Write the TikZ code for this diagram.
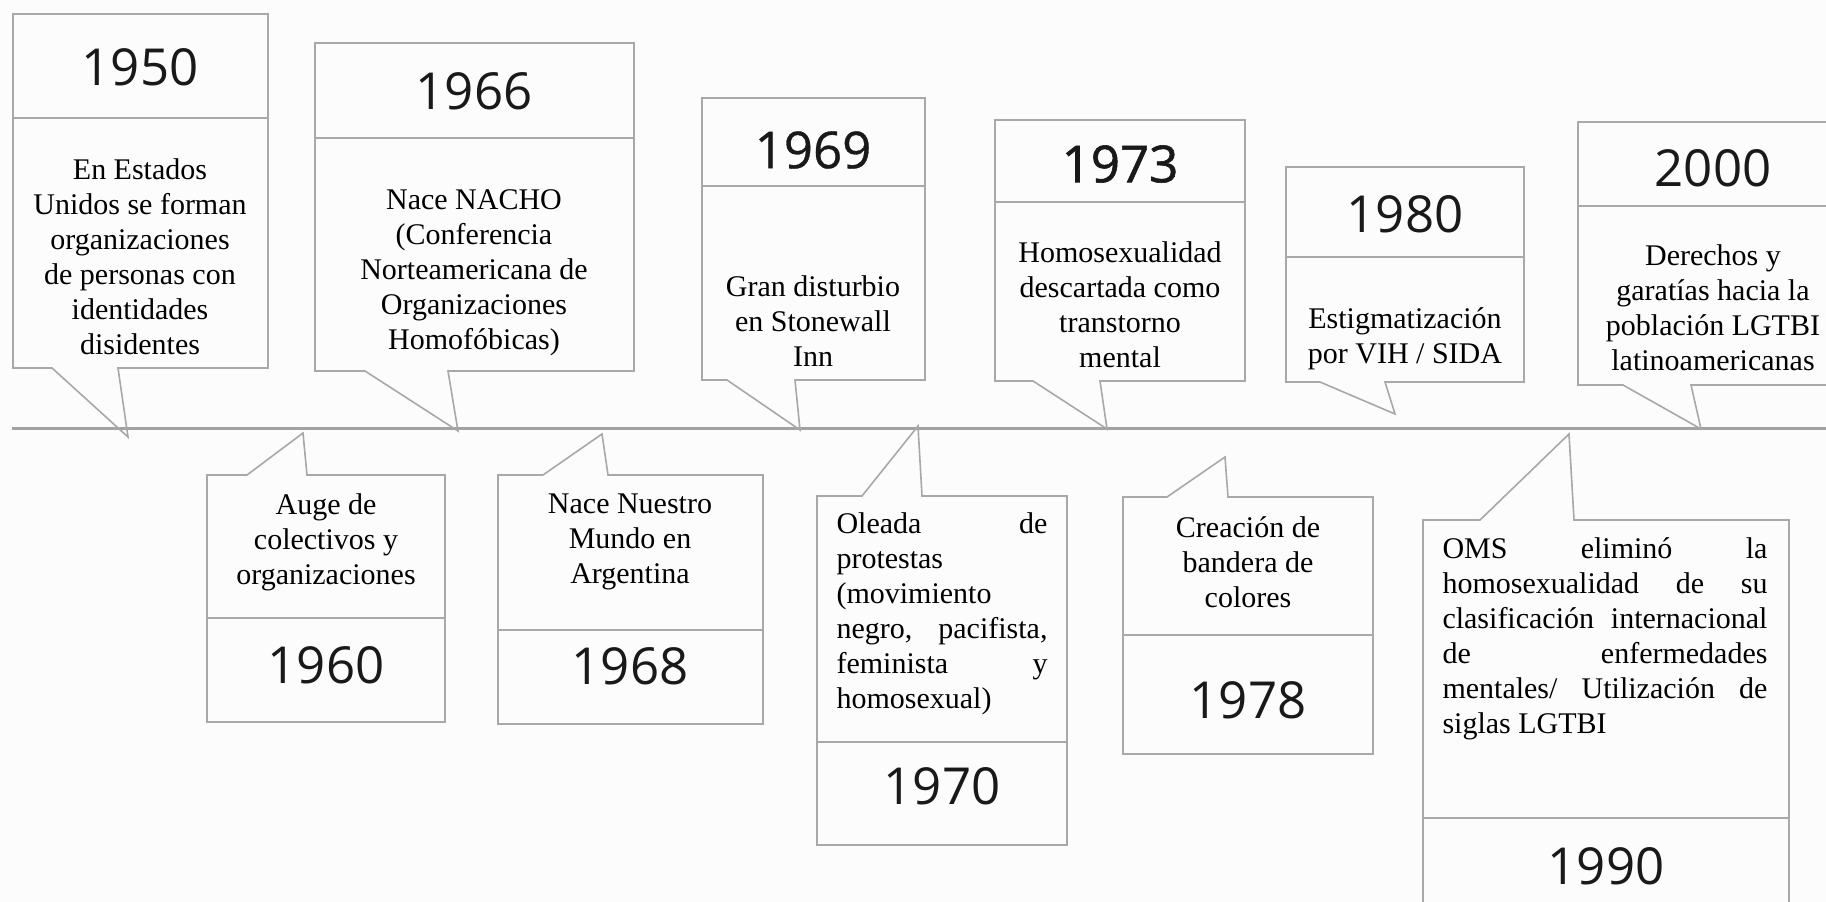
\documentclass[tikz,border=0pt]{standalone}
\usepackage{fontspec}
\setmainfont{Liberation Serif}
\newfontfamily\yearfont{Open Sans}
\newfontfamily\yearfontb[FakeBold=1.2]{Open Sans}
\newfontfamily\yearfontm[FakeBold=0.6]{Open Sans}
\definecolor{linegray}{HTML}{A8A8A8}
\definecolor{axisgray}{HTML}{A2A2A2}
\definecolor{bggray}{HTML}{FCFCFC}
\newcommand{\topcall}[8]{%
  \draw[boxline] (#1,#3) -- (#2,#3) -- (#2,#5) -- (#7,#5) -- (#8) -- (#6,#5) -- (#1,#5) -- cycle;
  \draw[boxline] (#1,#4) -- (#2,#4);}
\newcommand{\botcall}[8]{%
  \draw[boxline] (#1,#3) -- (#6,#3) -- (#8) -- (#7,#3) -- (#2,#3) -- (#2,#5) -- (#1,#5) -- cycle;
  \draw[boxline] (#1,#4) -- (#2,#4);}
\tikzset{
  boxline/.style={draw=linegray, line width=1.6pt, line join=miter},
  axis/.style={draw=axisgray, line width=3pt},
  yeartxt/.style={font=\yearfont\fontsize{51}{60}\selectfont, inner sep=0pt, text=black!90},
  bodytxt/.style={font=\fontsize{30}{35}\selectfont, align=center, inner sep=0pt, text=black},
  justtxt/.style={font=\fontsize{30}{35}\selectfont, align=left, inner sep=0pt, text=black},
}
\begin{document}
\begin{tikzpicture}[x=1pt,y=-1pt]
\useasboundingbox (0,0) rectangle (1826,902);
\clip (0,0) rectangle (1826,902);
\fill[bggray] (0,0) rectangle (1826,902);

% timeline
\coordinate (axL) at (12,428);
\coordinate (axR) at (1826,428);
\draw[axis] (axL) -- (axR);

% tail tips
\coordinate (t1950) at (128,437);
\coordinate (t1966) at (458,431);
\coordinate (t1969) at (800,430);
\coordinate (t1973) at (1107,429);
\coordinate (t1980) at (1395,414);
\coordinate (t2000) at (1701,429);
\coordinate (t1960) at (303,433);
\coordinate (t1968) at (602,434);
\coordinate (t1970) at (918,426);
\coordinate (t1978) at (1225,457);
\coordinate (t1990) at (1569,434);

% top callouts
\topcall{13}{268}{14}{118}{368}{52}{118}{t1950}
\topcall{315}{634}{43}{138}{371}{365}{448}{t1966}
\topcall{702}{925}{98}{186}{380}{727}{795}{t1969}
\topcall{995}{1245}{120}{202}{381}{1033}{1100}{t1973}
\topcall{1286}{1524}{167}{257}{382}{1320}{1385}{t1980}
\topcall{1578}{1850}{122}{206}{385}{1623}{1691}{t2000}

% bottom callouts
\botcall{207}{445}{475}{618}{722}{247}{307}{t1960}
\botcall{498}{763}{475}{630}{724}{543}{608}{t1968}
\botcall{817}{1067}{496}{742}{845}{862}{922}{t1970}
\botcall{1123}{1373}{497}{635}{754}{1167}{1228}{t1978}
\botcall{1423}{1789}{520}{818}{940}{1480}{1574}{t1990}

% years (top)
\node[yeartxt] (y1950) at (140,67) {1950};
\node[yeartxt] (y1966) at (474,91) {1966};
\node[yeartxt, font=\yearfontm\fontsize{51}{60}\selectfont] (y1969) at (813,150) {1969};
\node[yeartxt, font=\yearfontb\fontsize{51}{60}\selectfont] (y1973) at (1120,164) {1973};
\node[yeartxt] (y1980) at (1405,214) {1980};
\node[yeartxt] (y2000) at (1713,168) {2000};

% years (bottom)
\node[yeartxt] (y1960) at (326,665) {1960};
\node[yeartxt] (y1968) at (630,666) {1968};
\node[yeartxt] (y1970) at (942,786) {1970};
\node[yeartxt] (y1978) at (1248,700) {1978};
\node[yeartxt] (y1990) at (1606,866) {1990};

% body texts (top)
\node[bodytxt] (d1950) at (140,257) {En Estados\\Unidos se forman\\organizaciones\\de personas con\\identidades\\disidentes};
\node[bodytxt] (d1966) at (474,273) {Nace NACHO\\(Conferencia\\Norteamericana de\\Organizaciones\\Homofóbicas)};
\node[bodytxt] (d1969) at (813,321) {Gran disturbio\\en Stonewall\\Inn};
\node[bodytxt] (d1973) at (1120,305) {Homosexualidad\\descartada como\\transtorno\\mental};
\node[bodytxt] (d1980) at (1405,339) {Estigmatización\\por VIH / SIDA};
\node[bodytxt] (d2000) at (1713,308) {Derechos y\\garatías hacia la\\población LGTBI\\latinoamericanas};

% body texts (bottom)
\node[bodytxt] (d1960) at (326,542) {Auge de\\colectivos y\\organizaciones};
\node[bodytxt] (d1968) at (630,542) {Nace Nuestro\\Mundo en\\Argentina};
\node[justtxt] (d1970) at (942,614) {\makebox[211pt][s]{Oleada de}\\\makebox[211pt][l]{protestas}\\\makebox[211pt][l]{(movimiento}\\\makebox[211pt][s]{negro, pacifista,}\\\makebox[211pt][s]{feminista y}\\\makebox[211pt][l]{homosexual)}};
\node[bodytxt] (d1978) at (1248,562) {Creación de\\bandera de\\colores};
\node[justtxt] (d1990) at (1605,639) {\makebox[325pt][s]{OMS eliminó la}\\\makebox[325pt][s]{homosexualidad de su}\\\makebox[325pt][s]{clasificación internacional}\\\makebox[325pt][s]{de enfermedades}\\\makebox[325pt][s]{mentales/ Utilización de}\\\makebox[325pt][l]{siglas LGTBI}};
\end{tikzpicture}
\end{document}
